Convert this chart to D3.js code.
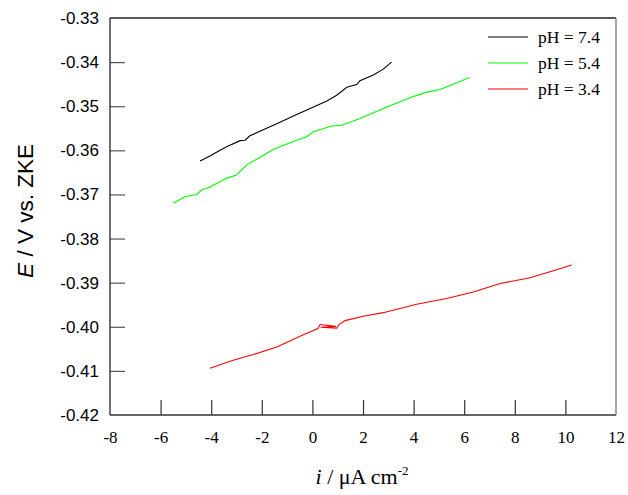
<!DOCTYPE html>
<html><head><meta charset="utf-8">
<script src="https://cdn.jsdelivr.net/npm/d3@7"></script>
<style>body{margin:0;background:#fff}svg{display:block}</style>
</head><body>
<svg id="chart" width="628" height="495"></svg>
<script>
const xTicks = [-8,-6,-4,-2,0,2,4,6,8,10,12];
const yTicks = [-0.33,-0.34,-0.35,-0.36,-0.37,-0.38,-0.39,-0.40,-0.41,-0.42];
const seriesNames = ["pH = 7.4","pH = 5.4","pH = 3.4"];
const seriesColors = ["#000000","#00ff00","#ff0000"];

const ph74_i = [-4.44,-4.05,-3.72,-3.39,-2.86,-2.66,-2.47,-1.81,-1.41,-0.75,-0.09,0.57,0.96,1.36,1.75,1.88,2.41,2.80,3.13];
const ph74_E = [-0.3624,-0.3613,-0.3602,-0.3592,-0.3578,-0.3577,-0.3567,-0.3550,-0.3540,-0.3522,-0.3505,-0.3488,-0.3475,-0.3457,-0.3451,-0.3442,-0.3429,-0.3416,-0.3400];

const ph54_i = [-5.50,-5.04,-4.57,-4.38,-4.05,-3.72,-3.39,-3.00,-2.60,-2.20,-1.55,-0.76,-0.23,0.04,0.76,1.16,1.88,2.94,3.99,4.52,5.04,5.57,6.20];
const ph54_E = [-0.3720,-0.3705,-0.3700,-0.3690,-0.3683,-0.3673,-0.3663,-0.3656,-0.3633,-0.3620,-0.3598,-0.3580,-0.3569,-0.3558,-0.3545,-0.3543,-0.3528,-0.3502,-0.3478,-0.3468,-0.3462,-0.3450,-0.3435];

const ph34_i = [-4.05,-3.13,-2.34,-1.41,-0.89,-0.36,0.22,0.30,0.93,0.33,0.96,1.05,1.29,2.01,2.80,4.12,5.31,6.36,7.42,8.60,9.52,10.25];
const ph34_E = [-0.4094,-0.4076,-0.4063,-0.4046,-0.4032,-0.4018,-0.4004,-0.3995,-0.3999,-0.4001,-0.4003,-0.3995,-0.3986,-0.3976,-0.3968,-0.3949,-0.3936,-0.3921,-0.3902,-0.3889,-0.3873,-0.3860];

const series = [
  {name: seriesNames[0], color: seriesColors[0], pts: ph74_i.map((v,k)=>[v, ph74_E[k]])},
  {name: seriesNames[1], color: seriesColors[1], pts: ph54_i.map((v,k)=>[v, ph54_E[k]])},
  {name: seriesNames[2], color: seriesColors[2], pts: ph34_i.map((v,k)=>[v, ph34_E[k]])}
];

const svg = d3.select("#chart");
const m = {left:110, top:18, right:12, bottom:80};
const W = 628 - m.left - m.right, H = 495 - m.top - m.bottom;
const g = svg.append("g").attr("transform", `translate(${m.left},${m.top})`);

const x = d3.scaleLinear().domain([-8,12]).range([0,W]);
const y = d3.scaleLinear().domain([-0.42,-0.33]).range([H,0]);

// y axis
const ya = g.append("g").call(d3.axisLeft(y).tickValues(yTicks).tickFormat(d=>d.toFixed(2)).tickSizeInner(-15).tickSizeOuter(0).tickPadding(11));
ya.select(".domain").remove();
ya.selectAll("text").attr("font-family","Liberation Sans, Arial, sans-serif").attr("font-size","17px").attr("fill","#000");
ya.selectAll(".tick line").attr("stroke","#555").attr("stroke-width",1.2).filter(d=>d===-0.33||d===-0.42).remove();

// x axis
const xa = g.append("g").attr("transform",`translate(0,${H})`).call(d3.axisBottom(x).tickValues(xTicks).tickFormat(d=>String(d)).tickSizeInner(-15).tickSizeOuter(0).tickPadding(16));
xa.select(".domain").remove();
xa.selectAll("text").attr("font-family","Liberation Serif, Times New Roman, serif").attr("font-size","17px").attr("fill","#000");
xa.selectAll(".tick line").attr("stroke","#333").attr("stroke-width",1.2).filter(d=>d===-8||d===12).remove();

// frame
g.append("line").attr("x1",0).attr("x2",W).attr("y1",0).attr("y2",0).attr("stroke","#222").attr("stroke-width",1.3);
g.append("line").attr("x1",0).attr("x2",0).attr("y1",0).attr("y2",H).attr("stroke","#222").attr("stroke-width",1.3);
g.append("line").attr("x1",0).attr("x2",W).attr("y1",H).attr("y2",H).attr("stroke","#333").attr("stroke-width",1.3);
g.append("line").attr("x1",W).attr("x2",W).attr("y1",0).attr("y2",H).attr("stroke","#777").attr("stroke-width",1.3);

// lines
const line = d3.line().x(d=>x(d[0])).y(d=>y(d[1]));
g.selectAll("path.series").data(series).join("path").attr("class","series")
  .attr("d", d=>line(d.pts)).attr("fill","none").attr("stroke", d=>d.color).attr("stroke-width",1.1);

// legend
const lg = g.append("g").attr("transform",`translate(${488-m.left},${37-m.top})`);
series.forEach((s,k)=>{
  const r = lg.append("g").attr("transform",`translate(0,${k*26})`);
  r.append("line").attr("x1",0).attr("x2",40).attr("y1",0).attr("y2",0).attr("stroke",s.color).attr("stroke-width",1.1);
  r.append("text").attr("x",50).attr("y",6).text(s.name).attr("font-family","Liberation Serif, Times New Roman, serif").attr("font-size","17.5px").attr("fill","#000");
});

// axis titles
const xt = svg.append("text").attr("x",362).attr("y",484).attr("text-anchor","middle")
  .attr("font-family","Liberation Serif, Times New Roman, serif").attr("font-size","22px").attr("fill","#000");
xt.append("tspan").attr("font-style","italic").text("i");
xt.append("tspan").text(" / μA cm");
xt.append("tspan").attr("font-size","13px").attr("dy","-9").text("-2");

const yt = svg.append("text").attr("transform","translate(33,211) rotate(-90)").attr("text-anchor","middle")
  .attr("font-family","Liberation Sans, Arial, sans-serif").attr("font-size","22.5px").attr("fill","#000");
yt.append("tspan").attr("font-style","italic").text("E");
yt.append("tspan").text(" / V vs. ZKE");
</script>
</body></html>
